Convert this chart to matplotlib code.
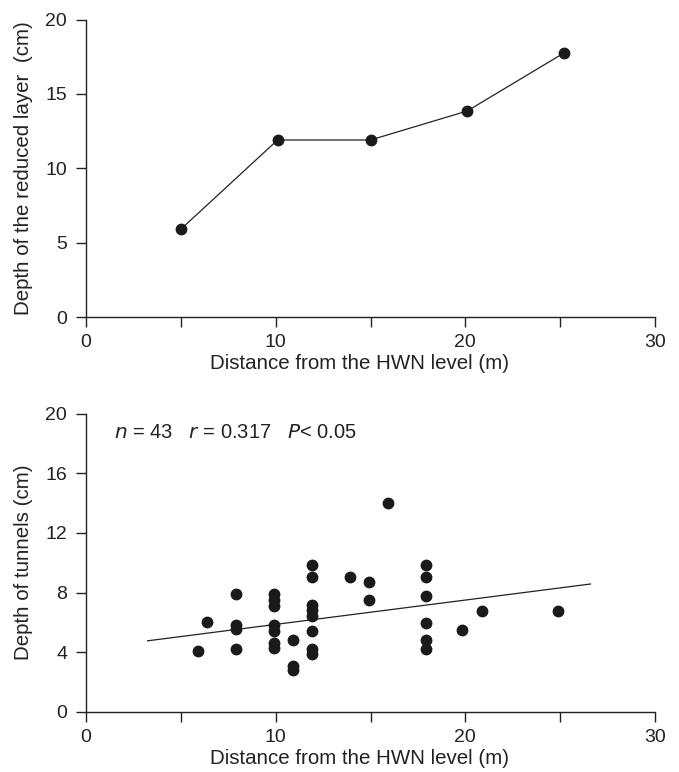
import matplotlib
matplotlib.use("Agg")
import matplotlib.pyplot as plt
import numpy as np

plt.rcParams['font.family'] = ['Liberation Sans', 'DejaVu Sans']

# Top panel: depth of the reduced layer
top_x = [5.0, 10.1, 15.0, 20.1, 25.2]
top_y = [5.9, 11.9, 11.9, 13.85, 17.75]

# Bottom panel: depth of tunnels
bot_x = [5.9, 6.4,
         7.9, 7.9, 7.9, 7.9,
         9.9, 9.9, 9.9, 9.9, 9.9, 9.9, 9.9,
         10.9, 10.9, 10.9,
         11.9, 11.9, 11.9, 11.9, 11.9, 11.9, 11.9, 11.9,
         13.9, 14.9, 14.9, 15.9,
         17.9, 17.9, 17.9, 17.9, 17.9, 17.9,
         19.8, 20.9, 24.9]
bot_y = [4.1, 6.0,
         7.9, 5.8, 5.55, 4.25,
         7.9, 7.5, 7.1, 5.8, 5.4, 4.6, 4.3,
         4.85, 3.1, 2.8,
         9.85, 9.05, 7.2, 6.85, 6.45, 5.4, 4.25, 3.9,
         9.05, 8.7, 7.5, 14.0,
         9.85, 9.05, 7.8, 5.95, 4.85, 4.2,
         5.5, 6.8, 6.8]

# Regression line
fit_intercept = 4.24
fit_slope = 0.163
fit_range = [3.25, 26.6]

stats_text = r"$\it{n}$ = 43   $\it{r}$ = 0.317   $\it{P}$< 0.05"
xlabel = "Distance from the HWN level (m)"
ylabel_top = "Depth of the reduced layer  (cm)"
ylabel_bot = "Depth of tunnels (cm)"

fig = plt.figure(figsize=(6.79, 7.72), dpi=100)
W, H = 679, 772
ax1 = fig.add_axes([86 / W, 1 - 317 / H, (655 - 86) / W, (317 - 19.5) / H])
ax2 = fig.add_axes([86 / W, 1 - 712 / H, (655 - 86) / W, (712 - 413.5) / H])

ink = '#222222'
lw_sp = 1.0
for ax in (ax1, ax2):
    for s in ('top', 'right'):
        ax.spines[s].set_visible(False)
    for s in ('left', 'bottom'):
        ax.spines[s].set_linewidth(lw_sp)
        ax.spines[s].set_color(ink)
    ax.set_xlim(0, 30)
    ax.set_xticks([0, 5, 10, 15, 20, 25, 30])
    ax.set_xticklabels(['0', '', '10', '', '20', '', '30'])
    ax.tick_params(direction='out', length=7, width=lw_sp, labelsize=14,
                   colors=ink)
    ax.tick_params(axis='x', pad=5.5)
    ax.tick_params(axis='y', pad=6.5)
    ax.set_xlabel(xlabel, fontsize=14.8, color=ink)
    ax.xaxis.set_label_coords(0.48, -0.0)
    ax.xaxis.label.set_verticalalignment('top')

ax1.plot(top_x, top_y, color=ink, lw=0.9, marker='o', ms=7.5,
         markerfacecolor='#1a1a1a', markeredgecolor='#1a1a1a', clip_on=False)
ax1.set_ylim(0, 20)
ax1.set_yticks([0, 5, 10, 15, 20])
ax1.set_ylabel(ylabel_top, fontsize=14.8, color=ink)
ax1.yaxis.set_label_coords(-0.093, 0.5)

xs = np.array(fit_range)
ax2.plot(xs, fit_intercept + fit_slope * xs, color=ink, lw=0.9, clip_on=False)
ax2.plot(bot_x, bot_y, linestyle='none', marker='o', ms=7.5,
         markerfacecolor='#1a1a1a', markeredgecolor='#1a1a1a', clip_on=False)
ax2.set_ylim(0, 20)
ax2.set_yticks([0, 4, 8, 12, 16, 20])
ax2.set_ylabel(ylabel_bot, fontsize=14.8, color=ink)
ax2.yaxis.set_label_coords(-0.093, 0.5)
ax2.text(1.5, 18.7, stats_text, fontsize=14.5, va='center', ha='left', color=ink)

# place x labels just below tick labels (in pixel terms)
from matplotlib.transforms import blended_transform_factory, ScaledTranslation
for ax, ypx in ((ax1, 317), (ax2, 712)):
    # label top ~37 px below the spine
    ax.xaxis.label.set_transform(
        blended_transform_factory(ax.transAxes, ax.transAxes)
        + ScaledTranslation(0, -37 / 100, fig.dpi_scale_trans))

fig.savefig("out.png", dpi=100)
